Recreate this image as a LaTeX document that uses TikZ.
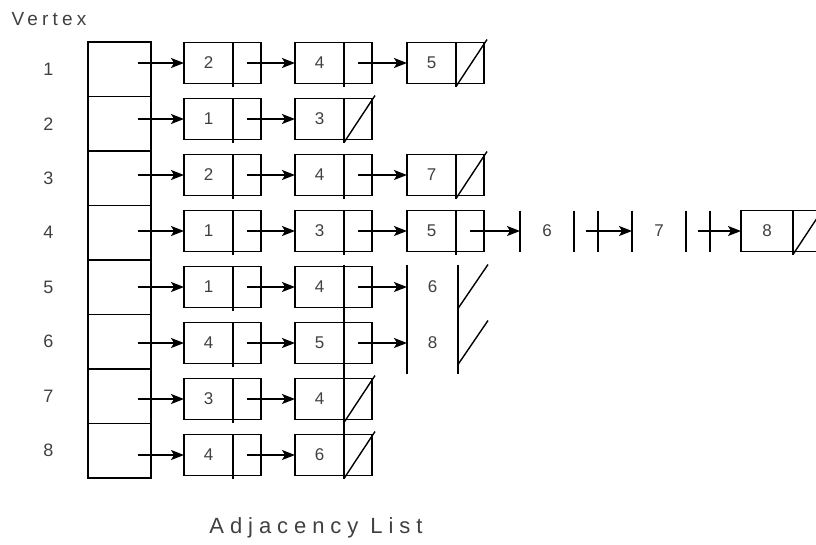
\documentclass[tikz,border=0pt]{standalone}
\usepackage{fontspec}
\setmainfont{Liberation Sans}
\newfontfamily\headfont[LetterSpace=22]{Liberation Sans}
\newfontfamily\captfont[LetterSpace=27]{Liberation Sans}
\usetikzlibrary{arrows.meta, positioning, calc}

\begin{document}
\begin{tikzpicture}[
  x = 1pt, y = -1pt,
  every node/.style = {text=black!75, font=\fontsize{17}{17}\selectfont},
  vcell/.style    = {rectangle, draw=black, line width=1.4pt, outer sep=0pt,
                     minimum width=63pt, minimum height=54.5pt, inner sep=0pt},
  datacell/.style = {rectangle, draw=black, line width=1.4pt, outer sep=0pt,
                     minimum width=49pt, minimum height=41pt, inner sep=0pt,
                     anchor=west},
  ptrcell/.style  = {datacell, minimum width=28pt,
                     append after command={(\tikzlastnode.north west)
                       edge[line width=1.4pt] ([yshift=-3pt]\tikzlastnode.south west)}},
  bare/.style     = {datacell, draw=none},
  bareptr/.style  = {bare, minimum width=28pt},
  lab/.style      = {font=\fontsize{18}{18}\selectfont},
  arr/.style      = {-{Stealth[length=13pt, width=10pt, inset=3pt]}, line width=1.4pt},
  nil/.style      = {line width=1.4pt},
  bar/.style      = {line width=2.2pt}
]
\useasboundingbox (0,0) rectangle (816,544);

% ---- vertex array ------------------------------------------------------
\node[anchor=west, font=\fontsize{19}{19}\selectfont\headfont] (head) at (8,19) {Vertex};
\node[vcell] (v1) at (119.5,69.25)  {};
\node[vcell, below=0pt of v1] (v2) {};
\node[vcell, below=0pt of v2] (v3) {};
\node[vcell, below=0pt of v3] (v4) {};
\node[vcell, below=0pt of v4] (v5) {};
\node[vcell, below=0pt of v5] (v6) {};
\node[vcell, below=0pt of v6] (v7) {};
\node[vcell, below=0pt of v7] (v8) {};
\node[lab, left=31pt of v1] (l1) {1};
\node[lab, left=31pt of v2] (l2) {2};
\node[lab, left=31pt of v3] (l3) {3};
\node[lab, left=31pt of v4] (l4) {4};
\node[lab, left=31pt of v5] (l5) {5};
\node[lab, left=31pt of v6] (l6) {6};
\node[lab, left=31pt of v7] (l7) {7};
\node[lab, left=31pt of v8] (l8) {8};

% ---- row 1 -------------------------------------------------------------
\node[datacell] (d11) at (184,63) {2};  \node[ptrcell, right=0pt of d11] (p11) {};
\node[datacell] (d12) at (295,63) {4};  \node[ptrcell, right=0pt of d12] (p12) {};
\node[datacell] (d13) at (407,63) {5};  \node[ptrcell, right=0pt of d13] (p13) {};
% ---- row 2 -------------------------------------------------------------
\node[datacell] (d21) at (184,119) {1}; \node[ptrcell, right=0pt of d21] (p21) {};
\node[datacell] (d22) at (295,119) {3}; \node[ptrcell, right=0pt of d22] (p22) {};
% ---- row 3 -------------------------------------------------------------
\node[datacell] (d31) at (184,175) {2}; \node[ptrcell, right=0pt of d31] (p31) {};
\node[datacell] (d32) at (295,175) {4}; \node[ptrcell, right=0pt of d32] (p32) {};
\node[datacell] (d33) at (407,175) {7}; \node[ptrcell, right=0pt of d33] (p33) {};
% ---- row 4 -------------------------------------------------------------
\node[datacell] (d41) at (184,231) {1}; \node[ptrcell, right=0pt of d41] (p41) {};
\node[datacell] (d42) at (295,231) {3}; \node[ptrcell, right=0pt of d42] (p42) {};
\node[datacell] (d43) at (407,231) {5}; \node[ptrcell, right=0pt of d43] (p43) {};
\node[bare, minimum width=54pt] (d44) at (520,231) {6};
\node[bareptr, minimum width=24pt, right=0pt of d44] (p44) {};
\node[bare, minimum width=54pt] (d45) at (632,231) {7};
\node[bareptr, minimum width=24pt, right=0pt of d45] (p45) {};
\node[datacell, minimum width=52pt] (d46) at (741,231) {8};
\node[ptrcell, right=0pt of d46] (p46) {};
% ---- row 5 -------------------------------------------------------------
\node[datacell] (d51) at (184,287) {1}; \node[ptrcell, right=0pt of d51] (p51) {};
\node[datacell] (d52) at (295,287) {4}; \node[ptrcell, right=0pt of d52] (p52) {};
\node[bare, minimum width=51pt] (d53) at (407,287) {6};
\node[bareptr, right=0pt of d53] (p53) {};
% ---- row 6 -------------------------------------------------------------
\node[datacell] (d61) at (184,343) {4}; \node[ptrcell, right=0pt of d61] (p61) {};
\node[datacell] (d62) at (295,343) {5}; \node[ptrcell, right=0pt of d62] (p62) {};
\node[bare, minimum width=51pt] (d63) at (407,343) {8};
\node[bareptr, right=0pt of d63] (p63) {};
% ---- row 7 -------------------------------------------------------------
\node[datacell] (d71) at (184,399) {3}; \node[ptrcell, right=0pt of d71] (p71) {};
\node[datacell] (d72) at (295,399) {4}; \node[ptrcell, right=0pt of d72] (p72) {};
% ---- row 8 -------------------------------------------------------------
\node[datacell] (d81) at (184,455) {4}; \node[ptrcell, right=0pt of d81] (p81) {};
\node[datacell] (d82) at (295,455) {6}; \node[ptrcell, right=0pt of d82] (p82) {};

% ---- heads into the lists ---------------------------------------------
\draw[arr] ($(d11.west -| v1.east)+(-13,0)$) -- (d11.west);
\draw[arr] ($(d21.west -| v2.east)+(-13,0)$) -- (d21.west);
\draw[arr] ($(d31.west -| v3.east)+(-13,0)$) -- (d31.west);
\draw[arr] ($(d41.west -| v4.east)+(-13,0)$) -- (d41.west);
\draw[arr] ($(d51.west -| v5.east)+(-13,0)$) -- (d51.west);
\draw[arr] ($(d61.west -| v6.east)+(-13,0)$) -- (d61.west);
\draw[arr] ($(d71.west -| v7.east)+(-13,0)$) -- (d71.west);
\draw[arr] ($(d81.west -| v8.east)+(-13,0)$) -- (d81.west);

% ---- links -------------------------------------------------------------
\draw[arr] (p11.center) -- (d12.west);
\draw[arr] (p12.center) -- (d13.west);
\draw[arr] (p21.center) -- (d22.west);
\draw[arr] (p31.center) -- (d32.west);
\draw[arr] (p32.center) -- (d33.west);
\draw[arr] (p41.center) -- (d42.west);
\draw[arr] (p42.center) -- (d43.west);
\draw[arr] (p43.center) -- (d44.west);
\draw[arr] (p44.center) -- (d45.west);
\draw[arr] (p45.center) -- (d46.west);
\draw[arr] (p51.center) -- (d52.west);
\draw[arr] (p52.center) -- (d53.west);
\draw[arr] (p61.center) -- (d62.west);
\draw[arr] (p62.center) -- (d63.west);
\draw[arr] (p71.center) -- (d72.west);
\draw[arr] (p81.center) -- (d82.west);

% ---- null pointers -----------------------------------------------------
\draw[nil] ([yshift=-3pt]p13.south west) -- ([shift={(3pt,3pt)}]p13.north east);
\draw[nil] ([yshift=-3pt]p22.south west) -- ([shift={(3pt,3pt)}]p22.north east);
\draw[nil] ([yshift=-3pt]p33.south west) -- ([shift={(3pt,3pt)}]p33.north east);
\draw[nil] ([yshift=-3pt]p46.south west) -- ([shift={(3pt,3pt)}]p46.north east);
\draw[nil] ([yshift=-1pt]p53.south west) -- ([shift={(2pt,2pt)}]p53.north east);
\draw[nil] ([yshift=-1pt]p63.south west) -- ([shift={(2pt,2pt)}]p63.north east);
\draw[nil] ([yshift=-3pt]p72.south west) -- ([shift={(3pt,3pt)}]p72.north east);
\draw[nil] ([yshift=-3pt]p82.south west) -- ([shift={(3pt,3pt)}]p82.north east);

% ---- open cells: only their uprights are drawn -------------------------
\draw[bar] (d44.north west) -- (d44.south west);
\draw[bar] (p44.north west) -- (p44.south west);
\draw[bar] (p44.north east) -- (p44.south east);
\draw[bar] (d45.north west) -- (d45.south west);
\draw[bar] (p45.north west) -- (p45.south west);
\draw[bar] (p45.north east) -- (p45.south east);
\draw[bar] ([yshift=2pt]d53.north west) -- ([yshift=-10pt]d63.south west);
\draw[bar] ([yshift=2pt]p53.north west) -- ([yshift=-10pt]p63.south west);
\draw[bar] ([yshift=2pt]p52.north west) -- ([yshift=-3pt]p82.south west);

\node[font=\fontsize{22}{22}\selectfont\captfont] (capt) at (316,528) {Adjacency List};
\end{tikzpicture}
\end{document}
